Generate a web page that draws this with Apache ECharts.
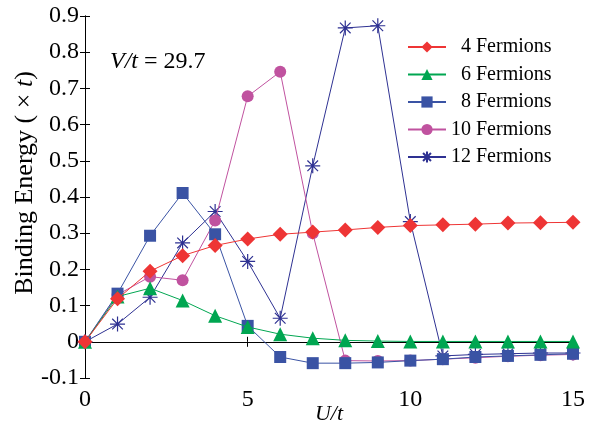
<!DOCTYPE html>
<html lang="en">
<head>
    <meta charset="UTF-8">
    <title>Binding Energy</title>
    <style>
        * { margin: 0; padding: 0; }
        body { background: #fff; }
        #chart { width: 589px; height: 423px; }
    </style>
</head>
<body>
    <div id="chart"></div>
</body>
</html>
<script src="https://cdn.jsdelivr.net/npm/echarts@6/dist/echarts.min.js"></script>
<script>

    const U = [0, 1, 2, 3, 4, 5, 6, 7, 8, 9, 10, 11, 12, 13, 14, 15];

    const f4 = [0, 0.119, 0.195, 0.238, 0.266, 0.284, 0.297, 0.303, 0.309, 0.316, 0.321, 0.323, 0.325, 0.328, 0.329, 0.330];
    const f6 = [0, 0.125, 0.148, 0.114, 0.072, 0.041, 0.021, 0.010, 0.004, 0.002, 0.001, 0.001, 0.001, 0.001, 0.001, 0.001];
    const f8 = [0, 0.133, 0.293, 0.411, 0.297, 0.044, -0.042, -0.059, -0.059, -0.057, -0.052, -0.048, -0.042, -0.039, -0.036, -0.033];
    const f10 = [0, 0.130, 0.180, 0.170, 0.335, 0.678, 0.746, 0.300, -0.052, -0.053, -0.052, -0.048, -0.044, -0.040, -0.037, -0.035];
    const f12 = [0, 0.049, 0.123, 0.273, 0.360, 0.222, 0.065, 0.486, 0.867, 0.873, 0.332, -0.039, -0.035, -0.033, -0.031, -0.031];

    const names = ['4 Fermions', '6 Fermions', '8 Fermions', '10 Fermions', '12 Fermions'];
    const xTicks = [0, 5, 10, 15];

    const font = 'Liberation Serif';
    const star = 'path://M10,0L10,20M0,10L20,10M2.9,2.9L17.1,17.1M2.9,17.1L17.1,2.9';

    // 每条曲线的样式
    const styles = [
        { data: f4, color: '#ee3535', symbol: 'diamond', size: 15 },
        { data: f6, color: '#00a651', symbol: 'triangle', size: 14 },
        { data: f8, color: '#3a53a4', symbol: 'rect', size: 12 },
        { data: f10, color: '#c0529f', symbol: 'circle', size: 12 },
        { data: f12, color: '#2e3192', symbol: star, size: 15 }
    ];

    const series = styles.map((s, i) => ({
        name: names[i],
        type: 'line',
        data: U.map((u, k) => [u, s.data[k]]),
        symbol: s.symbol,
        symbolSize: s.size,
        lineStyle: { color: s.color, width: 1 },
        itemStyle: i === 4
            ? { color: s.color, borderColor: s.color, borderWidth: 1.2 }
            : { color: s.color, borderWidth: 0 },
        emphasis: { disabled: true },
        z: 10 - i
    }));

    const tickStyle = { show: true, inside: true, length: 5, lineStyle: { color: '#000' } };
    const lineStyle = { show: true, lineStyle: { color: '#000', width: 1 } };

    var myChart = echarts.init(document.getElementById('chart'));
    myChart.setOption({
        animation: false,
        grid: { left: 85, right: 16, top: 16, bottom: 45, outerBoundsMode: 'none', containLabel: false },
        legend: {
            orient: 'vertical',
            left: 402,
            top: 32,
            itemWidth: 38,
            itemHeight: 14,
            itemGap: 7.5,
            data: names,
            // 个位数前补一个数字宽的空格，让数字右对齐
            formatter: (n) => n.length < 11 ? '\u2007' + n : n,
            textStyle: {
                fontFamily: font,
                fontSize: 20,
                lineHeight: 20,
                color: '#000'
            }
        },
        xAxis: [{
            type: 'value',
            min: 0, max: 15, interval: 5,
            axisLine: lineStyle,
            axisTick: tickStyle,
            splitLine: { show: false },
            axisLabel: {
                fontFamily: font, fontSize: 24, color: '#000', margin: 10,
                formatter: (v) => xTicks.includes(v) ? String(v) : ''
            },
            name: 'U/t',
            nameLocation: 'middle',
            nameGap: 25,
            nameMoveOverlap: false,
            nameTextStyle: { fontFamily: font, fontSize: 22, fontStyle: 'italic', color: '#000' }
        }, {
            type: 'value',
            position: 'top',
            min: 0, max: 15, interval: 5,
            axisLine: lineStyle,
            axisTick: tickStyle,
            axisLabel: { show: false },
            splitLine: { show: false }
        }],
        yAxis: [{
            type: 'value',
            min: -0.1, max: 0.9, interval: 0.1,
            axisLine: lineStyle,
            axisTick: tickStyle,
            splitLine: { show: false },
            axisLabel: {
                fontFamily: font, fontSize: 24, color: '#000', margin: 6,
                formatter: (v) => Math.abs(v) < 1e-9 ? '0' : v.toFixed(1)
            }
        }, {
            type: 'value',
            position: 'right',
            min: -0.1, max: 0.9, interval: 0.1,
            axisLine: lineStyle,
            axisTick: tickStyle,
            axisLabel: { show: false },
            splitLine: { show: false }
        }],
        graphic: [{
            type: 'text',
            left: 110,
            top: 50,
            style: {
                text: '{i|V/t} = 29.7',
                fontFamily: font,
                fontSize: 24,
                fill: '#000',
                rich: { i: { fontFamily: font, fontSize: 24, fontStyle: 'italic', fill: '#000' } }
            }
        }, {
            // 纵轴标题
            type: 'text',
            x: 25,
            y: 183,
            rotation: Math.PI / 2,
            style: {
                text: 'Binding Energy ( × {i|t})',
                fontFamily: font,
                fontSize: 26,
                fill: '#000',
                align: 'center',
                verticalAlign: 'middle',
                rich: { i: { fontFamily: font, fontSize: 26, fontStyle: 'italic', fill: '#000' } }
            }
        }],
        series: series
    });

</script>
